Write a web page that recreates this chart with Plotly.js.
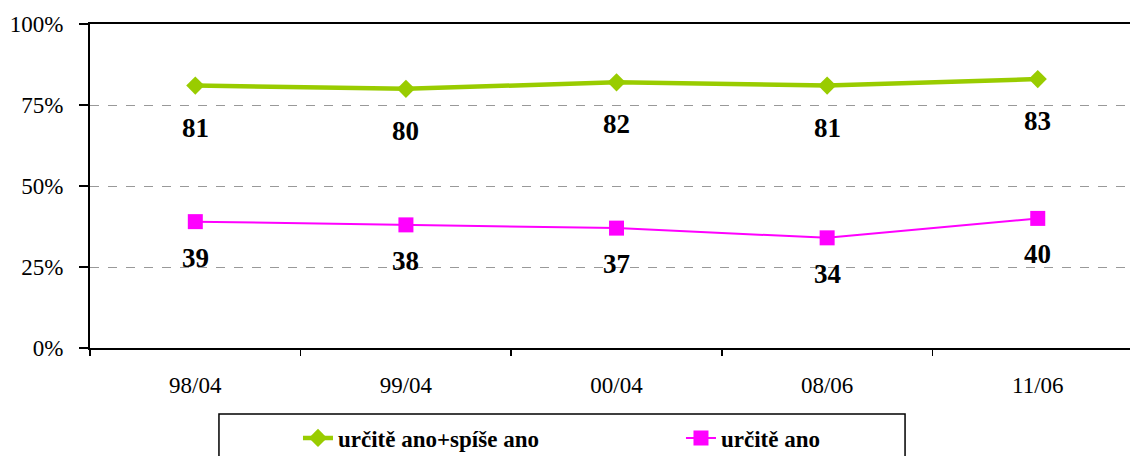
<!DOCTYPE html>
<html>
<head>
<meta charset="utf-8">
<script src="https://cdn.plot.ly/plotly-3.0.1.min.js"></script>
<style>html,body{margin:0;padding:0;overflow:hidden;background:#fff}</style>
</head>
<body>
<div id="chart" style="width:1130px;height:456px"></div>
<script>
const categories = ["98/04", "99/04", "00/04", "08/06", "11/06"];
const seriesNames = ["určitě ano+spíše ano", "určitě ano"];
const valuesBoth = [81, 80, 82, 81, 83];
const valuesYes = [39, 38, 37, 34, 40];
const yTicks = [0, 25, 50, 75, 100];
const yTickText = yTicks.map(v => v + "%");

const FONT = "Liberation Serif";

const traces = [
  {
    x: categories, y: valuesBoth, name: seriesNames[0], type: "scatter", mode: "lines+markers",
    line: {color: "#99CC00", width: 4.5},
    marker: {symbol: "diamond", size: 14, color: "#99CC00"}
  },
  {
    x: categories, y: valuesYes, name: seriesNames[1], type: "scatter", mode: "lines+markers",
    line: {color: "#FF00FF", width: 2},
    marker: {symbol: "square", size: 15, color: "#FF00FF"}
  }
];

const annotations = [];
categories.forEach((c, i) => {
  annotations.push({x: c, y: valuesBoth[i], text: String(valuesBoth[i]), showarrow: false, yshift: -42,
    font: {family: FONT, size: 27, color: "#000", weight: "bold"}});
  annotations.push({x: c, y: valuesYes[i], text: String(valuesYes[i]), showarrow: false, yshift: -36,
    font: {family: FONT, size: 27, color: "#000", weight: "bold"}});
});

const layout = {
  width: 1130, height: 456,
  margin: {l: 90, r: 0, t: 24, b: 108, autoexpand: false},
  paper_bgcolor: "#fff", plot_bgcolor: "#fff",
  font: {family: FONT, size: 20, color: "#000"},
  showlegend: true,
  xaxis: {
    type: "category", range: [-0.5, 4.438],
    showline: true, linecolor: "#000", linewidth: 2, mirror: true,
    ticks: "outside", tickson: "boundaries", ticklen: 6, tickwidth: 1.5, tickcolor: "#000",
    showgrid: false, zeroline: false, ticklabelstandoff: 15,
    tickfont: {family: FONT, size: 23, color: "#000"}
  },
  yaxis: {
    range: [0, 100], tickmode: "array", tickvals: yTicks, ticktext: yTickText,
    showline: true, linecolor: "#000", linewidth: 2, mirror: true,
    ticks: "outside", ticklen: 9, tickwidth: 1.5, tickcolor: "#000",
    showgrid: true, gridcolor: "#999", griddash: "dash", gridwidth: 1,
    zeroline: false, ticklabelstandoff: 11,
    tickfont: {family: FONT, size: 23, color: "#000"}
  },
  legend: {
    orientation: "h", xref: "container", yref: "container",
    x: 0.2637, xanchor: "left", y: 0.0395, yanchor: "middle",
    entrywidth: 338, bgcolor: "rgba(0,0,0,0)", borderwidth: 0,
    font: {family: FONT, size: 23, color: "#000", weight: "bold"}
  },
  shapes: [{
    type: "rect", xref: "paper", yref: "paper",
    x0: 0.124, x1: 0.7837, y0: -0.2037, y1: -0.40,
    line: {color: "#000", width: 1.5}, fillcolor: "rgba(0,0,0,0)", layer: "below"
  }],
  annotations: annotations
};

Plotly.newPlot("chart", traces, layout, {displayModeBar: false, staticPlot: true});
</script>
</body>
</html>
